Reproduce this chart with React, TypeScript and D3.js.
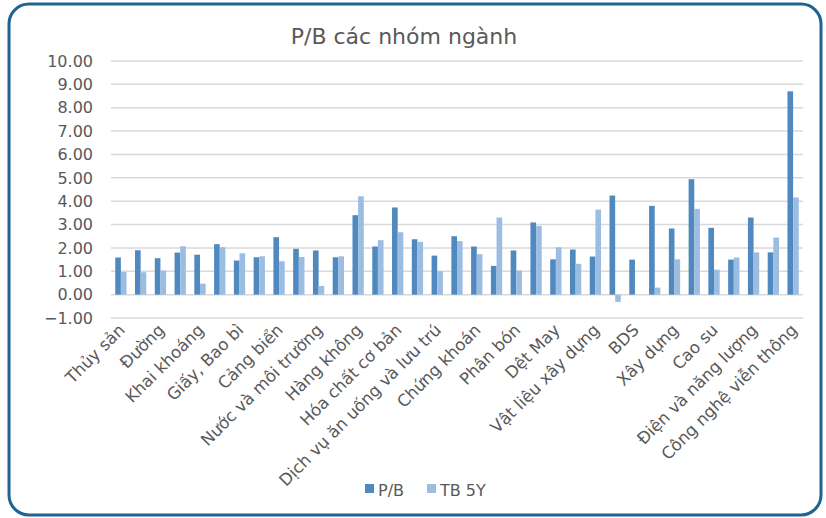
import React from "react";
import * as d3 from "d3";

// 35 sectors; Excel only shows every other label
const categories = [
  "Thủy sản", "Ngân hàng", "Đường", "Bảo hiểm", "Khai khoáng", "Dầu khí",
  "Giấy, Bao bì", "Thép", "Cảng biển", "Vận tải", "Nước và môi trường", "Nhựa",
  "Hàng không", "Dược phẩm", "Hóa chất cơ bản", "Bán lẻ", "Dịch vụ ăn uống và lưu trú",
  "Thực phẩm", "Chứng khoán", "Logistics", "Phân bón", "Ô tô và phụ tùng", "Dệt May",
  "Công nghệ thông tin", "Vật liệu xây dựng", "Thiết bị điện", "BDS", "KCN", "Xây dựng",
  "Hạ tầng", "Cao su", "Gỗ", "Điện và năng lượng", "Chăn nuôi", "Công nghệ viễn thông",
];

const pb = [
  1.59, 1.9, 1.56, 1.8, 1.71, 2.16, 1.46, 1.6, 2.46, 1.96, 1.89, 1.6,
  3.4, 2.06, 3.73, 2.37, 1.67, 2.5, 2.06, 1.23, 1.89, 3.09, 1.51, 1.93,
  1.63, 4.24, 1.5, 3.8, 2.83, 4.94, 2.86, 1.5, 3.3, 1.81, 8.7,
];

const tb5y = [
  0.97, 0.96, 1.03, 2.07, 0.47, 2.03, 1.77, 1.64, 1.43, 1.61, 0.37, 1.64,
  4.21, 2.33, 2.67, 2.26, 1.0, 2.29, 1.73, 3.3, 1.03, 2.94, 2.03, 1.32,
  3.64, -0.31, 0, 0.3, 1.51, 3.67, 1.07, 1.59, 1.81, 2.44, 4.16,
];

const seriesNames = ["P/B", "TB 5Y"];
const yTicks = [-1, 0, 1, 2, 3, 4, 5, 6, 7, 8, 9, 10];

const W = 826;
const H = 518;
const colors = ["#4f89c0", "#9cbde2"];
const textColor = "#595959";
const font = "DejaVu Sans, Verdana, sans-serif";

export default function App() {
  const left = 111, right = 803, top = 61, bottom = 318;
  const gap = 1.5 / 3.5; // 150% gap width, two bars per group

  const x = d3
    .scaleBand()
    .domain(categories)
    .range([left, right])
    .paddingInner(gap)
    .paddingOuter(gap / 2);
  const inner = d3
    .scaleBand()
    .domain(seriesNames)
    .range([0, x.bandwidth()]);
  const y = d3.scaleLinear().domain([-1, 10]).range([bottom, top]);

  const series = [pb, tb5y];
  const fmt = d3.format(".2f");

  return (
    <svg
      width={W}
      height={H}
      style={{ position: "absolute", left: 0, top: 0, background: "#fff" }}
      fontFamily={font}
    >
      <rect x={9} y={4} width={812} height={511} rx={20} fill="#fff" stroke="#1f6391" strokeWidth={3} />
      <text x={404} y={44} textAnchor="middle" fontSize={22} fill={textColor}>
        P/B các nhóm ngành
      </text>

      {/* gridlines and y labels */}
      {yTicks.map((t) => (
        <g key={t}>
          <line x1={left} x2={right} y1={y(t)} y2={y(t)} stroke="#d9d9d9" strokeWidth={1.5} />
          <text x={93} y={y(t)} dy="0.36em" textAnchor="end" fontSize={16} fill={textColor}>
            {fmt(t)}
          </text>
        </g>
      ))}

      {/* bars */}
      {series.map((vals, si) =>
        vals.map((v, i) => (
          <rect
            key={si + "-" + i}
            x={(x(categories[i]) as number) + (inner(seriesNames[si]) as number)}
            y={y(Math.max(0, v))}
            width={inner.bandwidth()}
            height={Math.abs(y(v) - y(0))}
            fill={colors[si]}
          />
        ))
      )}

      {/* x labels, every other category */}
      {categories.map((c, i) =>
        i % 2 === 0 ? (
          <text
            key={c}
            transform={`translate(${(x(c) as number) + x.bandwidth() / 2 + 5},${bottom + 13}) rotate(-45)`}
            textAnchor="end"
            fontSize={16.6}
            fill={textColor}
          >
            {c}
          </text>
        ) : null
      )}

      {/* legend */}
      {seriesNames.map((s, si) => {
        const lx = si === 0 ? 365 : 427;
        return (
          <g key={s}>
            <rect x={lx} y={484} width={9} height={9} fill={colors[si]} />
            <text x={lx + 13} y={496} fontSize={16} fill={textColor}>
              {s}
            </text>
          </g>
        );
      })}
    </svg>
  );
}
